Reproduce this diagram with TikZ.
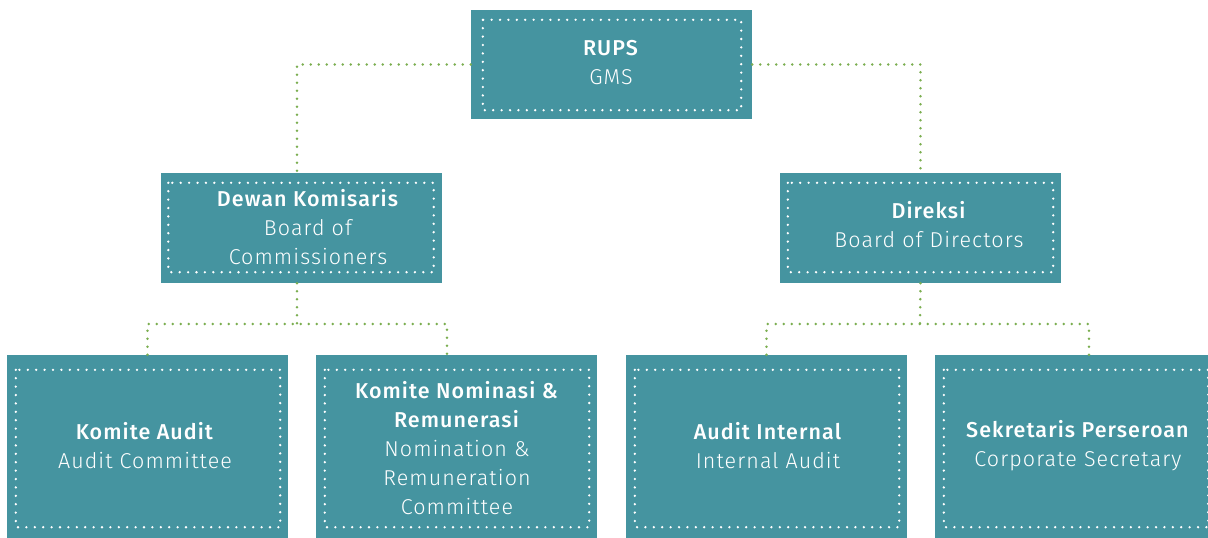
\documentclass[tikz,border=0pt]{standalone}
\usepackage{fontspec}
\setmainfont{Fira Sans}[UprightFont=* Light, BoldFont=* Medium, LetterSpace=5.0]
\definecolor{boxteal}{HTML}{4594A0}
\definecolor{dotgreen}{HTML}{7BAE50}
\begin{document}
\begin{tikzpicture}[x=1pt,y=-1pt,
  box/.style={fill=boxteal, draw=none, inner sep=0pt, minimum width=281pt},
  wdots/.style={draw=white, line width=2.6pt, line cap=round, dash pattern=on 0pt off 8.4pt},
  gdots/.style={draw=dotgreen, line width=2.8pt, line cap=round, dash pattern=on 0pt off 8pt},
  lbl/.style={text=white, align=center, font=\fontsize{21.5}{29}\selectfont, inner sep=0pt}
]
\clip (0,0) rectangle (1208,538);
\fill[white] (0,0) rectangle (1208,538);

% boxes
\node[box, minimum height=109pt] (rups) at (611.5,64.5) {};
\node[box, minimum height=110pt] (dk) at (301,228) {};
\node[box, minimum height=110pt] (dir) at (920.5,228) {};
\node[box, minimum height=183pt] (ka) at (147.5,446.5) {};
\node[box, minimum height=183pt] (kn) at (456.5,446.5) {};
\node[box, minimum height=183pt] (ai) at (766.5,446.5) {};
\node[box, minimum height=183pt] (sp) at (1075.5,446.5) {};

% inner dotted frames
\draw[wdots] ([xshift=12pt,yshift=-10pt]rups.north west) rectangle ([xshift=-11pt,yshift=9pt]rups.south east);
\foreach \n in {dk,dir} {
  \draw[wdots] ([xshift=8pt,yshift=-10pt]\n.north west) rectangle ([xshift=-8pt,yshift=11pt]\n.south east);
}
\foreach \n in {ka,kn,ai,sp} {
  \draw[wdots] ([xshift=9pt,yshift=-15pt]\n.north west) rectangle ([xshift=-8pt,yshift=11pt]\n.south east);
}

% labels
\node[lbl] (trups) at (611,63) {\textbf{RUPS}\\GMS};
\node[lbl] (tdk) at (308,227) {\textbf{Dewan Komisaris}\\Board of\\Commissioners};
\node[lbl] (tdir) at (929,225) {\textbf{Direksi}\\Board of Directors};
\node[lbl] (tka) at (145,446) {\textbf{Komite Audit}\\Audit Committee};
\node[lbl] (tkn) at (457,448) {\textbf{Komite Nominasi \&}\\\textbf{Remunerasi}\\Nomination \&\\Remuneration\\Committee};
\node[lbl] (tai) at (768,446) {\textbf{Audit Internal}\\Internal Audit};
\node[lbl] (tsp) at (1078,445.5) {\textbf{Sekretaris Perseroan}\\Corporate Secretary};

% connectors
\coordinate (jl) at (297,324);
\coordinate (jr) at (920,324);
\draw[gdots] (rups.west) -| ([xshift=-4pt]dk.north);
\draw[gdots] (rups.east) -| (dir.north);
\draw[gdots] ([xshift=-4pt]dk.south) -- (jl);
\draw[gdots] (ka.north) |- (jl) -| ([xshift=-9.5pt]kn.north);
\draw[gdots] (dir.south) -- (jr);
\draw[gdots] (ai.north) |- (jr) -| ([xshift=13.5pt]sp.north);
\end{tikzpicture}
\end{document}
